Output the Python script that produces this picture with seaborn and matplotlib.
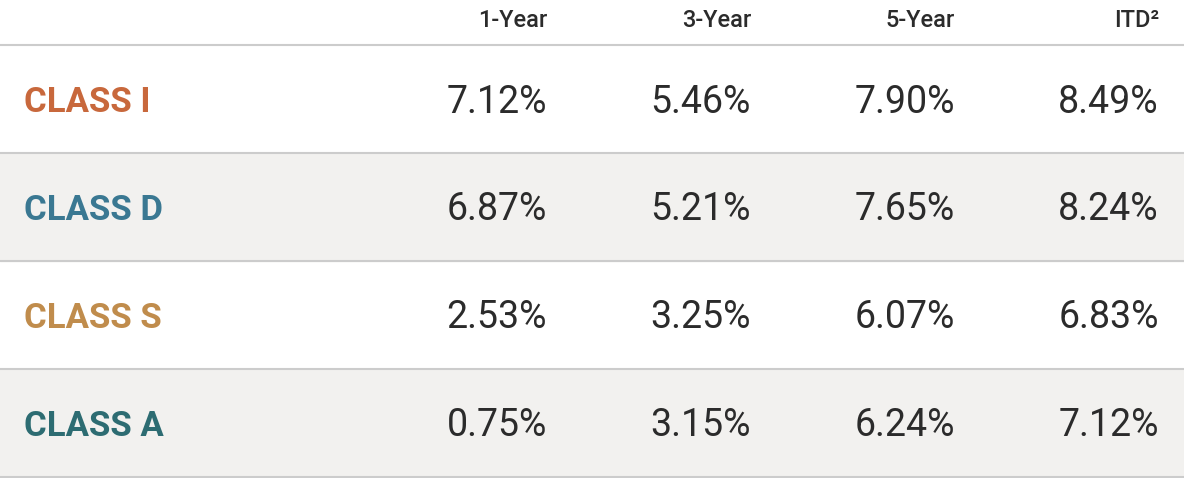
import matplotlib
matplotlib.use("Agg")
import matplotlib.pyplot as plt
import seaborn as sns

classes = ["CLASS I", "CLASS D", "CLASS S", "CLASS A"]
class_colors = ["#c8683c", "#3a7892", "#c08c4c", "#2d6c72"]
headers = ["1-Year", "3-Year", "5-Year", "ITD²"]
values = [
    ["7.12%", "5.46%", "7.90%", "8.49%"],
    ["6.87%", "5.21%", "7.65%", "8.24%"],
    ["2.53%", "3.25%", "6.07%", "6.83%"],
    ["0.75%", "3.15%", "6.24%", "7.12%"],
]

sns.set_theme(style="white")
plt.rcParams["font.family"] = ["Roboto", "DejaVu Sans"]

W, H = 1184, 478
fig = plt.figure(figsize=(W / 100, H / 100), dpi=100)
ax = fig.add_axes([0, 0, 1, 1])
ax.set_xlim(0, W)
ax.set_ylim(H, 0)
ax.axis("off")

col_x = [547, 751, 955, 1159]
header_h = 45
row_h = 108

for j, h in enumerate(headers):
    ax.text(col_x[j], 20, h, ha="right", va="center", fontsize=17,
            color="#2b2b2b", fontweight="medium")
ax.plot([0, W], [header_h, header_h], color="#cccccc", lw=1.5)

for i, (c, col) in enumerate(zip(classes, class_colors)):
    top = header_h + i * row_h
    if i % 2 == 1:
        ax.axhspan(top, top + row_h, color="#f2f1ef", zorder=0)
    ax.plot([0, W], [top + row_h, top + row_h], color="#cccccc", lw=1.5)
    cy = top + row_h / 2 + 3
    ax.text(24, cy, c, ha="left", va="center", fontsize=25, color=col,
            fontweight="bold")
    for j, v in enumerate(values[i]):
        ax.text(col_x[j], cy, v, ha="right", va="center", fontsize=27,
                color="#2b2b2b", fontweight="normal")

fig.savefig("out.png", dpi=100)
